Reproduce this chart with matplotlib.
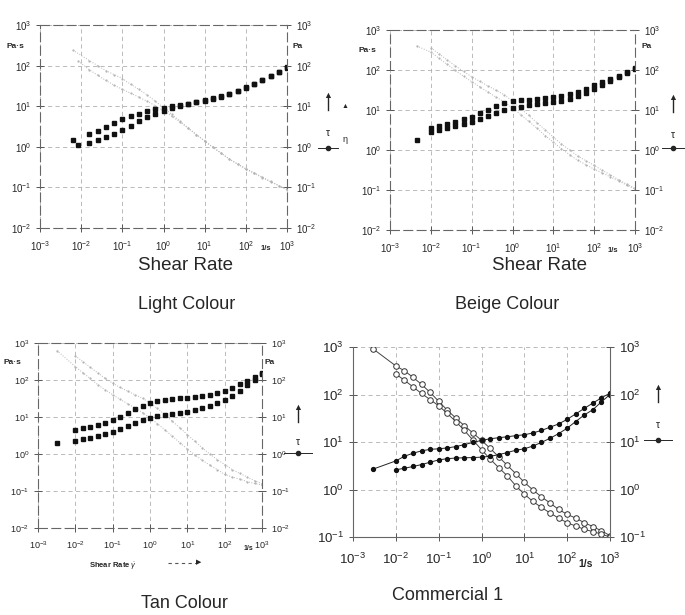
"""
Flow curves (viscosity and shear stress vs shear rate) for four samples,
redrawn as a 2x2 grid of log-log panels.
"""

import matplotlib.pyplot as plt
from matplotlib.lines import Line2D
from matplotlib.ticker import FixedLocator, NullLocator

W, H = 685, 615

# shear-rate grid used by the rheometer (1/s), 5 points per decade
GRID = [0.01, 0.0158, 0.0251, 0.0398, 0.0631, 0.1, 0.158, 0.251, 0.398, 0.631,
        1.0, 1.58, 2.51, 3.98, 6.31, 10, 15.8, 25.1, 39.8, 63.1,
        100, 158, 251, 398, 631, 1000]

# --- Light Colour -----------------------------------------------------------
light_rate_hi = [0.0063] + GRID[1:]
light_tau_hi = [1.5, 2.1, 2.5, 3.0, 3.8, 4.8, 5.6, 6.6, 7.6, 8.4, 9.2, 10.0, 10.8,
                11.6, 12.8, 14.0, 15.5, 17.5, 20, 24, 29, 36, 45, 56, 71, 90]
light_eta_hi = [240, 133, 100, 75, 60, 48, 35, 26, 19, 13.3, 9.2, 6.3, 4.3, 2.9,
                2.0, 1.4, 0.98, 0.70, 0.50, 0.38, 0.29, 0.23, 0.18, 0.14, 0.11, 0.09]
light_rate_lo = [0.0085] + GRID[1:]
light_tau_lo = [1.1, 1.25, 1.45, 1.7, 2.1, 2.6, 3.3, 4.2, 5.3, 6.5, 7.8, 9.0, 10.2,
                11.3, 12.5, 13.8, 15.3, 17.2, 19.8, 23.5, 28.5, 35, 44, 55, 70, 88]
light_eta_lo = [130, 79, 58, 43, 33, 26, 21, 16.7, 13.3, 10.3, 7.8, 5.7, 4.1, 2.84,
                1.98, 1.38, 0.97, 0.69, 0.50, 0.37, 0.285, 0.22, 0.175, 0.138,
                0.111, 0.088]

# --- Beige Colour -----------------------------------------------------------
beige_rate_hi = GRID
beige_tau_hi = [3.6, 4.0, 4.5, 5.0, 5.8, 6.8, 8.2, 10, 12.5, 15, 16.5, 17.5, 18.3,
                19, 20, 21, 22.5, 25, 28, 34, 41, 49, 60, 72, 88, 110]
beige_eta_hi = [360, 253, 180, 126, 92, 68, 52, 40, 31, 24, 16.5, 11, 7.3, 4.8,
                3.2, 2.1, 1.42, 1.0, 0.70, 0.54, 0.41, 0.31, 0.24, 0.18, 0.14, 0.11]
beige_rate_lo = [0.0045] + GRID
beige_tau_lo = [1.8, 2.8, 3.1, 3.5, 3.9, 4.4, 5.1, 6.0, 7.1, 8.5, 10.0, 11.3, 12.2,
                13.0, 13.8, 14.7, 15.6, 17, 19, 22, 27, 33, 42, 53, 66, 84, 106]
beige_eta_lo = [400, 280, 196, 139, 98, 70, 51, 38, 28, 21, 15.8, 11.3, 7.7, 5.2,
                3.5, 2.3, 1.56, 1.08, 0.76, 0.55, 0.43, 0.33, 0.27, 0.21, 0.17,
                0.13, 0.106]

# --- Tan Colour -------------------------------------------------------------
tan_rate_hi = GRID
tan_tau_hi = [4.5, 5.0, 5.5, 6.2, 7.0, 8.2, 10, 12.5, 16, 20, 24, 27, 29, 30.5,
              32, 33.5, 35, 37, 40, 45, 52, 60, 76, 95, 120, 155]
tan_eta_hi = [450, 316, 219, 156, 111, 82, 63, 50, 40, 32, 24, 17, 11.6, 7.7,
              5.1, 3.35, 2.2, 1.47, 1.0, 0.71, 0.52, 0.38, 0.30, 0.24, 0.19, 0.155]
tan_rate_lo = [0.0032] + GRID
tan_tau_lo = [2.0, 2.3, 2.5, 2.75, 3.0, 3.4, 4.0, 4.8, 5.8, 7.0, 8.3, 9.5, 10.5,
              11.3, 12.0, 12.8, 13.7, 15, 17, 20, 24, 28, 38, 52, 72, 100, 145]
tan_eta_lo = [625, 230, 158, 110, 75, 54, 40, 30, 23, 17.6, 13.2, 9.5, 6.6, 4.5,
              3.0, 2.03, 1.37, 0.95, 0.68, 0.50, 0.38, 0.28, 0.24, 0.21, 0.18,
              0.16, 0.145]

# --- Commercial 1 -----------------------------------------------------------
comm_rate_hi = [0.003] + GRID
comm_tau_hi = [2.7, 4.0, 5.0, 5.8, 6.5, 7.0, 7.2, 7.5, 8.0, 8.8, 9.8, 10.8, 11.7,
               12.3, 12.9, 13.6, 14.2, 15.5, 17.5, 20.5, 24, 30, 39, 51, 66, 85, 107]
comm_eta_hi = [900, 400, 316, 231, 163, 111, 72, 47, 32, 22, 15.5, 10.8, 7.4, 4.9,
               3.24, 2.16, 1.42, 0.98, 0.70, 0.52, 0.38, 0.30, 0.25, 0.20, 0.166,
               0.135, 0.107]
comm_rate_lo = GRID
comm_tau_lo = [2.6, 2.8, 3.05, 3.35, 3.75, 4.2, 4.45, 4.6, 4.65, 4.7, 4.8, 5.0,
               5.4, 6.0, 6.7, 7.2, 8.2, 9.8, 12, 15, 19.5, 27, 37, 48, 70, 100]
comm_eta_lo = [270, 200, 145, 105, 78, 58, 40, 27, 17.5, 11, 6.9, 4.4, 2.9, 1.95,
               1.2, 0.8, 0.56, 0.42, 0.32, 0.25, 0.2, 0.17, 0.145, 0.13, 0.115, 0.10]

X_DECADES = [1e-3, 1e-2, 1e-1, 1e0, 1e1, 1e2, 1e3]
X_LABELS = ["$10^{-3}$", "$10^{-2}$", "$10^{-1}$", "$10^{0}$", "$10^{1}$",
            "$10^{2}$", "$10^{3}$"]
Y_DECADES_A = [1e-2, 1e-1, 1e0, 1e1, 1e2, 1e3]
Y_LABELS_A = ["$10^{-2}$", "$10^{-1}$", "$10^{0}$", "$10^{1}$", "$10^{2}$", "$10^{3}$"]
Y_DECADES_B = [1e-1, 1e0, 1e1, 1e2, 1e3]
Y_LABELS_B = ["$10^{-1}$", "$10^{0}$", "$10^{1}$", "$10^{2}$", "$10^{3}$"]

INK = "#262626"

plt.rcParams["font.family"] = ["Liberation Sans", "DejaVu Sans"]
plt.rcParams["mathtext.fontset"] = "custom"
plt.rcParams["mathtext.rm"] = "Liberation Sans"
plt.rcParams["mathtext.it"] = "Liberation Sans:italic"
plt.rcParams["mathtext.bf"] = "Liberation Sans:bold"


def fx(px):
    return px / W


def fy(py):
    return 1 - py / H


def make_axes(fig, left, top, right, bottom):
    return fig.add_axes([fx(left), fy(bottom), (right - left) / W, (bottom - top) / H])


def style_axes(ax, ydec, ylab, fs, pad, dashed):
    ax.set_xscale("log")
    ax.set_yscale("log")
    ax.set_xlim(1e-3, 1e3)
    ax.set_ylim(ydec[0], ydec[-1])
    ax.xaxis.set_major_locator(FixedLocator(X_DECADES))
    ax.yaxis.set_major_locator(FixedLocator(ydec))
    ax.xaxis.set_minor_locator(NullLocator())
    ax.yaxis.set_minor_locator(NullLocator())
    ax.set_xticklabels(X_LABELS)
    ax.set_yticklabels(ylab)
    ax.tick_params(axis="both", which="major", direction="inout", length=6,
                   width=0.7, color="#555", labelsize=fs, labelcolor=INK,
                   right=True, labelright=True, top=False)
    ax.tick_params(axis="x", pad=pad)
    ax.grid(True, which="major", ls=(0, (5, 4)), color="#b0b0b0", lw=0.6)
    for side, sp in ax.spines.items():
        sp.set_color("#666")
        sp.set_linewidth(0.8)
        if dashed:
            sp.set_linestyle((0, (8, 4)))
    if not dashed:
        ax.spines["top"].set_visible(False)
    ax.set_axisbelow(True)


def draw_small(ax, rh, th, eh, rl, tl, el):
    for r, e in ((rh, eh), (rl, el)):
        ax.plot(r, e, ls=":", lw=0.7, color="#b5b5b5", marker="o", ms=1.6,
                mfc="#b5b5b5", mec="none")
    for r, t in ((rh, th), (rl, tl)):
        ax.plot(r, t, ls="none", marker="s", ms=3.3, color="#111", mec="#111")


def legend_keys(fig, x, y_arrow, y_tau, y_line, half):
    fig.add_artist(Line2D([fx(x), fx(x)], [fy(y_arrow + 12), fy(y_arrow)],
                          color=INK, lw=1.0))
    fig.text(fx(x), fy(y_arrow - 2), "\u25B2", fontsize=6.5, color=INK,
             ha="center", va="center")
    fig.text(fx(x), fy(y_tau), "\u03C4", fontsize=7.5, color=INK,
             ha="center", va="center")
    fig.add_artist(Line2D([fx(x - half), fx(x), fx(x + half)],
                          [fy(y_line)] * 3, color=INK, lw=0.7,
                          marker="o", ms=3, markevery=[1]))


fig = plt.figure(figsize=(W / 100, H / 100), dpi=100)

# panel 1: Light Colour
ax1 = make_axes(fig, 40, 25, 287, 228)
style_axes(ax1, Y_DECADES_A, Y_LABELS_A, 7, 5, True)
draw_small(ax1, light_rate_hi, light_tau_hi, light_eta_hi,
           light_rate_lo, light_tau_lo, light_eta_lo)

# panel 2: Beige Colour
ax2 = make_axes(fig, 390, 30, 635, 230)
style_axes(ax2, Y_DECADES_A, Y_LABELS_A, 7, 5, True)
draw_small(ax2, beige_rate_hi, beige_tau_hi, beige_eta_hi,
           beige_rate_lo, beige_tau_lo, beige_eta_lo)

# panel 3: Tan Colour
ax3 = make_axes(fig, 38, 343, 262, 528)
style_axes(ax3, Y_DECADES_A, Y_LABELS_A, 6.5, 5, True)
draw_small(ax3, tan_rate_hi, tan_tau_hi, tan_eta_hi,
           tan_rate_lo, tan_tau_lo, tan_eta_lo)

# panel 4: Commercial 1
ax4 = make_axes(fig, 353, 347, 610, 537)
style_axes(ax4, Y_DECADES_B, Y_LABELS_B, 9.5, 8, False)
for r, e in ((comm_rate_hi, comm_eta_hi), (comm_rate_lo, comm_eta_lo)):
    ax4.plot(r, e, ls="-", lw=0.7, color="#444", marker="o", ms=4,
             mfc="white", mec="#333", mew=0.7)
for r, t in ((comm_rate_hi, comm_tau_hi), (comm_rate_lo, comm_tau_lo)):
    ax4.plot(r, t, ls="-", lw=0.7, color="#222", marker="o", ms=2.8,
             mfc="#111", mec="#111")

# unit labels
for x, y, s in ((15, 47, "Pa\u00B7s"), (298, 47, "Pa"),
                (367, 50, "Pa\u00B7s"), (647, 47, "Pa"),
                (12, 363, "Pa\u00B7s"), (270, 363, "Pa")):
    fig.text(fx(x), fy(y), s, fontsize=6, fontweight="bold", color=INK,
             ha="center", va="center")

for x, y, fs in ((266, 248, 5.5), (613, 250, 5.5), (248, 548, 5), (586, 564, 7.5)):
    fig.text(fx(x), fy(y), "1/s", fontsize=fs, fontweight="bold", color=INK,
             ha="center", va="center")

fig.text(fx(185), fy(265), "Shear Rate", fontsize=13.5, color=INK,
         ha="center", va="center")
fig.text(fx(540), fy(265), "Shear Rate", fontsize=13.5, color=INK,
         ha="center", va="center")
fig.text(fx(113), fy(566), r"Shear Rate $\dot{\gamma}$", fontsize=5.5,
         fontweight="bold", color=INK, ha="center", va="center")
fig.add_artist(Line2D([fx(168), fx(196)], [fy(563), fy(563)], color="#555",
                      lw=0.8, ls=(0, (3, 3))))
fig.text(fx(199), fy(563), "\u25B6", fontsize=5, color=INK,
         ha="center", va="center")

# panel titles
for x, y, s in ((187, 305, "Light Colour"), (507, 305, "Beige Colour"),
                (184, 604, "Tan Colour"), (448, 596, "Commercial 1")):
    fig.text(fx(x), fy(y), s, fontsize=13, color=INK, ha="center", va="center")

# eta / tau keys on the right of each panel
legend_keys(fig, 328, 98, 133, 148, 10)
legend_keys(fig, 673, 100, 135, 148, 11)
legend_keys(fig, 298, 410, 442, 453, 14)
legend_keys(fig, 658, 390, 425, 440, 14)
fig.text(fx(345), fy(106), "\u25B2", fontsize=5, color=INK, ha="center", va="center")
fig.text(fx(345), fy(139), "\u03B7", fontsize=6.5, color=INK, ha="center", va="center")

fig.savefig("out.png", dpi=100)
